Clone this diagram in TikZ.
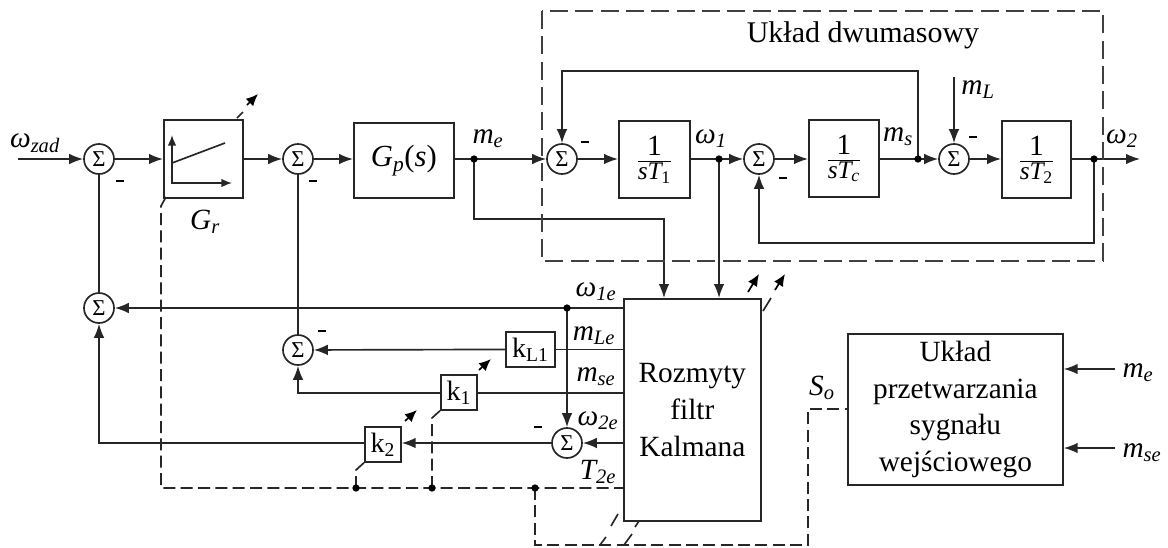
\documentclass[tikz,border=0pt]{standalone}
\usepackage{fontspec}
\setmainfont{Liberation Serif}
\usetikzlibrary{arrows.meta}
\tikzset{
 x=0.75pt,y=-0.75pt,
 wire/.style={line width=1.25pt,draw=black!85},
 arr/.style={wire,-{Latex[length=10.5pt,width=8pt]}},
 dashln/.style={line width=1.25pt,draw=black!85,dash pattern=on 9pt off 4pt},
 framedash/.style={line width=1.1pt,draw=black!75,dash pattern=on 13.5pt off 5.5pt},
 sumnode/.style={circle,draw=black!85,line width=1.25pt,minimum size=22.5pt,inner sep=0pt,font=\fontsize{17}{17}\selectfont},
 blk/.style={draw=black!85,line width=1.3pt,inner sep=0pt,anchor=north west},
 lab/.style={inner sep=0pt,font=\fontsize{22}{22}\selectfont},
 dotn/.style={circle,fill=black,inner sep=0pt,minimum size=5.5pt},
 minus/.style={line width=1.6pt,draw=black},
 smallarr/.style={line width=1.25pt,draw=black,-{Latex[length=9pt,width=8pt]}},
}
\newcommand{\frc}[1]{$\displaystyle\frac{\mbox{\fontsize{22}{22}\selectfont 1}}{\mbox{\fontsize{19}{19}\selectfont\textit{sT}\kern-1.5pt\textsubscript{#1}}}$}
\newcommand{\lb}[2]{\textit{#1\textsubscript{#2}}}
\begin{document}
\begin{tikzpicture}
\useasboundingbox (0,0) rectangle (1168,547);
% sums
\foreach \n/\x/\y in {s1/99/159,s2/298/159,s3/99/308,s4/298/350,s5/567/443,s6/562/159,s7/759/159,s8/954/159}
  \node[sumnode] (\n) at (\x,\y) {Σ};
% blocks
\node[blk,minimum width=59.25pt,minimum height=58.5pt] (gr) at (163,119) {};
\node[blk,minimum width=75pt,minimum height=56.25pt,font=\fontsize{23}{23}\selectfont] (gp) at (353,122) {\textit{G}\textsubscript{\textit{p}}(\textit{s})};
\node[blk,minimum width=53.25pt,minimum height=57.75pt] (t1) at (618,120) {\frc{1}};
\node[blk,minimum width=52.5pt,minimum height=57.75pt] (tc) at (808,119) {\frc{\textit{c}}};
\node[blk,minimum width=51.75pt,minimum height=57.75pt] (t2) at (1001,120) {\frc{2}};
\node[blk,minimum width=102.75pt,minimum height=166.5pt,align=center,font=\fontsize{22}{27.5}\selectfont] (kf) at (623,298) {Rozmyty\\filtr\\Kalmana};
\node[blk,minimum width=161.25pt,minimum height=113.25pt,align=center,font=\fontsize{22}{27.5}\selectfont] (uk) at (847,333) {Układ\\przetwarzania\\sygnału\\wejściowego};
\node[blk,minimum width=36.75pt,minimum height=26.25pt,font=\fontsize{21}{21}\selectfont] (kl) at (505,331) {k\textsubscript{L1}};
\node[blk,minimum width=27pt,minimum height=26.25pt,font=\fontsize{21}{21}\selectfont] (k1) at (440,374) {k\textsubscript{1}};
\node[blk,minimum width=27pt,minimum height=26.25pt,font=\fontsize{21}{21}\selectfont] (k2) at (364,426) {k\textsubscript{2}};
% gr inner plot
\coordinate (pa) at (172,135);
\coordinate (pb) at (172,183);
\coordinate (pc) at (232,183);
\coordinate (pd) at (172,163);
\coordinate (pe) at (225,143);
\draw[line width=1.25pt,draw=black!85,{Latex[length=8pt,width=6.5pt]}-{Latex[length=8pt,width=6.5pt]}] (pa) -- (pb) -- (pc);
\draw[wire] (pd) -- (pe);
% coordinates
\coordinate (in) at (18,159);
\coordinate (me) at (474,159);
\coordinate (w1) at (719,159);
\coordinate (ms) at (918,159);
\coordinate (w2) at (1094,159);
\coordinate (oe) at (1140,159);
\coordinate (mlt) at (954,77);
\coordinate (w1e) at (567,308);
\coordinate (c0) at (166,197);
\coordinate (c00) at (161,206);
\coordinate (c1) at (161,488);
\coordinate (d1) at (356,488);
\coordinate (d2) at (432,488);
\coordinate (d3) at (535,488);
\coordinate (kfd) at (623,488);
\coordinate (top) at (562,71);
\coordinate (bot) at (759,243);
\coordinate (mid) at (664,219);
% forward path
\draw[arr] (in) -- (s1);
\draw[arr] (s1) -- (gr.west|-s1);
\draw[arr] (gr.east|-s2) -- (s2);
\draw[arr] (s2) -- (gp.west|-s2);
\draw[arr] (gp.east|-s6) -- (s6);
\draw[arr] (s6) -- (t1.west|-s6);
\draw[arr] (t1.east|-s7) -- (s7);
\draw[arr] (s7) -- (tc.west|-s7);
\draw[arr] (tc.east|-s8) -- (s8);
\draw[arr] (s8) -- (t2.west|-s8);
\draw[arr] (t2.east|-w2) -- (oe);
\draw[arr] (mlt) -- (s8);
% feedbacks
\draw[arr] (ms) |- (top) -- (s6);
\draw[arr] (w2) |- (bot) -- (s7);
\draw[arr] (me) |- (mid) -- (kf.north-|mid);
\draw[arr] (w1) -- (kf.north-|w1);
% lower
\draw[arr] (kf.west|-s3) -- (s3);
\draw[arr] (w1e) -- (s5);
\draw[arr] (kf.west|-s5) -- (s5);
\draw[arr] (kl) -- (s4);
\draw[wire] (kf.west|-kl) -- (kl);
\coordinate (y1) at (0,393);
\coordinate (y2) at (0,443);
\coordinate (y3) at (0,409);
\draw[arr] (k1.west|-y1) -| (s4);
\draw[wire] (kf.west|-y1) -- (k1.east|-y1);
\draw[arr] (s5) -- (k2.east|-s5);
\draw[arr] (k2.west|-y2) -| (s3);
\draw[wire] (s4) -- (s2);
\draw[wire] (s3) -- (s1);
% dashed frame
\draw[framedash] (542,11) rectangle (1103,261);
% dashed control
\draw[dashln] (c0) -- (c00) -- (c1) -- (kfd);
\draw[dashln] (d1) -- (356,470) -- (k2.south west);
\draw[dashln] (d2) -- (432,418) -- (k1.south west);
\draw[dashln] (d3) -- (535,545) -- (808,545) -- (808,409) -- (uk.west|-y3);
\draw[wire] (600,545) -- (606,537) (611,526) -- (618,514);
\draw[wire] (624,545) -- (632,534) (635,527) -- (639,521);
% small parameter arrows
\draw[wire] (237,118) -- (243,112);
\draw[smallarr] (247,105) -- (258,94);
\draw[smallarr] (479,370) -- (491,359);
\draw[smallarr] (405,421) -- (417,410);
\draw[smallarr] (748,292) -- (759,274);
\draw[wire] (763,311) -- (771,298);
\draw[smallarr] (775,290) -- (785,274);
% right inputs
\coordinate (rme) at (1115,369);
\coordinate (rms) at (1115,448);
\draw[arr] (rme) -- (uk.east|-rme);
\draw[arr] (rms) -- (uk.east|-rms);
% dots
\foreach \n in {me,w1,ms,w2,w1e,d1,d2,d3} \node[dotn] at (\n) {};
% minus
\foreach \x/\y in {120/181,313/181,585/142,783/178,973/137,322/331,538/427} \draw[minus] (\x-4,\y) -- (\x+4,\y);
% labels
\node[lab] at (35,143) {\lb{ω}{zad}};
\node[lab] at (205,222) {\lb{G}{r}};
\node[lab] at (488,139) {\lb{m}{e}};
\node[lab] at (711,139) {\lb{ω}{1}};
\node[lab] at (898,137) {\lb{m}{s}};
\node[lab] at (978,90) {\lb{m}{L}};
\node[lab] at (1122,139) {\lb{ω}{2}};
\node[lab,font=\fontsize{22.5}{22.5}\selectfont] at (863,35) {Układ dwumasowy};
\node[lab] at (596,292) {\lb{ω}{1e}};
\node[lab] at (594,336) {\lb{m}{Le}};
\node[lab] at (596,377) {\lb{m}{se}};
\node[lab] at (598,421) {\lb{ω}{2e}};
\node[lab] at (598,472) {\lb{T}{2e}};
\node[lab] at (822,388) {\lb{S}{o}};
\node[lab] at (1138,373) {\lb{m}{e}};
\node[lab] at (1142,453) {\lb{m}{se}};
\end{tikzpicture}
\end{document}
